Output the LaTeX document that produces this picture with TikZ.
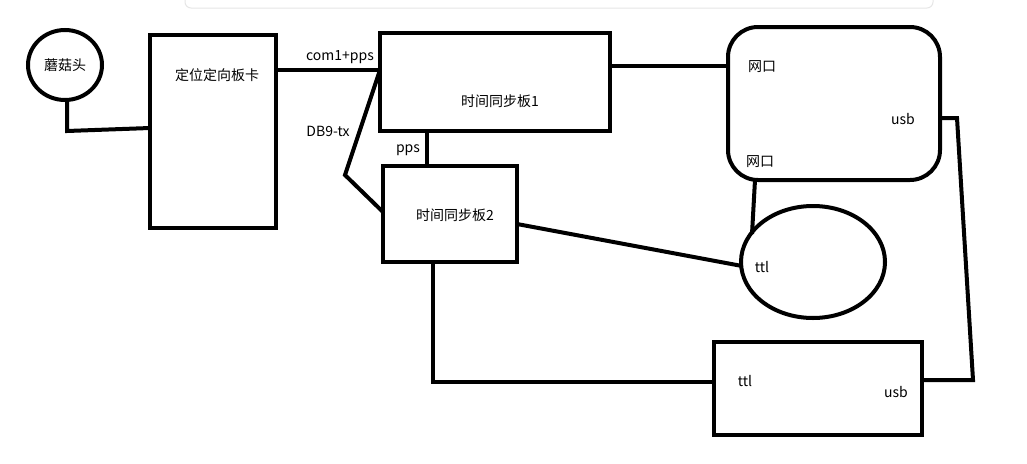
\documentclass[tikz,border=0pt]{standalone}
\usepackage{fontspec}
\setmainfont{Noto Sans CJK SC}
\usepackage{xcolor}
\definecolor{vlightgray}{HTML}{e6e6e6}

\begin{document}
\begin{tikzpicture}[x=1pt,y=-1pt, line width=4pt,
		box/.style={draw, line width=4pt},
		lbl/.style={inner sep=0pt, font=\fontsize{14pt}{16pt}\selectfont}]
		\useasboundingbox (0,0) rectangle (1027,463);
		% top bar of the screenshot
		\draw[color=vlightgray, line width=1pt, rounded corners=6pt, fill=white] (185,-10) rectangle (933,8);
		% parts
		\draw[box] (65,65) ellipse (37 and 35);
		\node[lbl] (mushroom) at (65,65) {蘑菇头};
		\draw[box] (150,35) rectangle (276,228);
		\node[lbl] (card) at (217,75) {定位定向板卡};
		\draw[box] (380,33) rectangle (610,131);
		\node[lbl] (sync1) at (500,101) {时间同步板1};
		\draw[box] (383,166) rectangle (517,262);
		\node[lbl] (sync2) at (455,215) {时间同步板2};
		\draw[box, rounded corners=30pt] (728,27) rectangle (940,180);
		\node[lbl] (net1) at (762,67) {网口};
		\node[lbl] (usb1) at (903,119) {usb};
		\node[lbl] (net2) at (760,162) {网口};
		\draw[box] (813,262) ellipse (72 and 56);
		\node[lbl] (ttl1) at (762,267) {ttl};
		\draw[box] (714,342) rectangle (922,435);
		\node[lbl] (ttl2) at (745,381) {ttl};
		\node[lbl] (usb2) at (896,392) {usb};
		% connectors
		\coordinate (mb) at (67,100);
		\coordinate (ml) at (67,131);
		\coordinate (cl) at (150,128);
		\draw (mb) -- (ml) -- (cl);
		\coordinate (cr) at (276,70);
		\coordinate (s1l) at (380,70);
		\draw (cr) -- (s1l);
		\node[lbl] (com) at (340,57) {com1+pps};
		\coordinate (kink) at (345,175);
		\coordinate (s2l) at (383,212);
		\draw (s1l) -- (kink) -- (s2l);
		\node[lbl] (db9) at (328,131) {DB9-tx};
		\coordinate (s1b) at (427,131);
		\coordinate (s2t) at (427,166);
		\draw (s1b) -- (s2t);
		\node[lbl] (pps) at (408,150) {pps};
		\coordinate (s1r) at (610,66);
		\coordinate (netl) at (728,66);
		\draw (s1r) -- (netl);
		\coordinate (usbr) at (940,118);
		\coordinate (ua) at (957,118);
		\coordinate (ub) at (973,380);
		\coordinate (br) at (922,380);
		\draw (usbr) -- (ua) -- (ub) -- (br);
		\coordinate (netb) at (755,180);
		\coordinate (elt) at (752,234);
		\draw (netb) -- (elt);
		\coordinate (s2r) at (517,224);
		\coordinate (ell) at (742,266);
		\draw (s2r) -- (ell);
		\coordinate (s2b) at (433,262);
		\coordinate (corner) at (433,382);
		\coordinate (bl) at (714,382);
		\draw (s2b) -- (corner) -- (bl);
	\end{tikzpicture}
\end{document}
